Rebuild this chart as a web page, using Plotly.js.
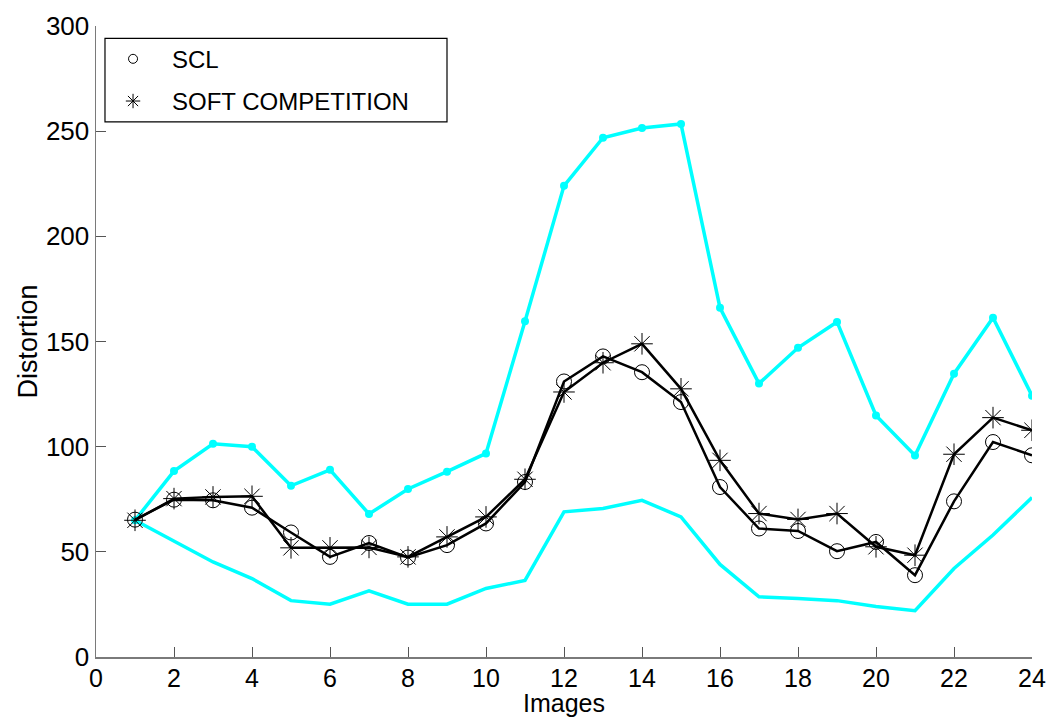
<!DOCTYPE html>
<html>
<head>
<meta charset="utf-8">
<script src="https://cdn.plot.ly/plotly-3.0.1.min.js"></script>
<style>
  html, body { margin: 0; padding: 0; background: #fff; }
  #chart { width: 1050px; height: 717px; }
</style>
</head>
<body>
<div id="chart"></div>
<script>
// Image index along the horizontal axis
const images = [1, 2, 3, 4, 5, 6, 7, 8, 9, 10, 11, 12, 13, 14, 15, 16, 17, 18, 19, 20, 21, 22, 23, 24];

// Envelope curves (cyan): upper bound with dots, lower bound plain
const upperBound = [65, 88.4, 101.4, 100, 81.4, 89, 68, 79.9, 88.1, 96.8, 159.6, 224, 246.9, 251.5, 253.4, 166, 130, 147, 159.3, 114.8, 95.8, 134.7, 161.3, 124.2];
const lowerBound = [65, 55, 45.2, 37.3, 26.8, 25.1, 31.5, 25.1, 25.1, 32.6, 36.4, 69, 70.6, 74.5, 66.6, 44, 28.6, 27.8, 26.8, 24, 22, 42.1, 58, 75.8];

// Distortion per image for the two methods
const sclDistortion = [65.3, 74.8, 74.5, 71, 59.2, 47.6, 54.2, 47.3, 53.2, 63.5, 83.2, 131, 142.9, 135.4, 121.2, 80.8, 61.1, 59.9, 50.3, 54.7, 38.9, 74, 102.2, 95.9];
const softDistortion = [65, 75.3, 76.1, 76.4, 51.9, 51.9, 52.1, 47.6, 57.1, 66.6, 84.5, 126, 139.9, 148.9, 127.5, 93.5, 68.2, 65.4, 68.2, 52.4, 48.4, 96.4, 113.8, 107.8];

const seriesNames = ['SCL', 'SOFT COMPETITION'];
const xTicks = [0, 2, 4, 6, 8, 10, 12, 14, 16, 18, 20, 22, 24];
const yTicks = [0, 50, 100, 150, 200, 250, 300];

const FONT = 'Liberation Sans, Arial, Helvetica, sans-serif';
const CYAN = '#00ffff';

const traces = [
  {
    x: images, y: upperBound, type: 'scatter', mode: 'lines+markers',
    line: { color: CYAN, width: 3.5 },
    marker: { color: CYAN, size: 8, symbol: 'circle' },
    showlegend: false, hoverinfo: 'skip'
  },
  {
    x: images, y: lowerBound, type: 'scatter', mode: 'lines',
    line: { color: CYAN, width: 3.5 },
    showlegend: false, hoverinfo: 'skip'
  },
  {
    x: images, y: sclDistortion, type: 'scatter', mode: 'lines+markers',
    line: { color: '#000', width: 2.5 },
    marker: { color: '#000', size: 15, symbol: 'circle-open', line: { width: 1 } },
    showlegend: false
  },
  {
    x: images, y: softDistortion, type: 'scatter', mode: 'lines+markers',
    line: { color: '#000', width: 2.5 },
    marker: { color: '#000', size: 18, symbol: 'asterisk-open', line: { width: 1 } },
    showlegend: false
  },
  // Legend entries: symbol only
  {
    x: [null], y: [null], type: 'scatter', mode: 'markers', name: seriesNames[0],
    legendgroup: 'a',
    marker: { color: '#000', size: 9, symbol: 'circle-open', line: { width: 1 } }
  },
  {
    x: [null], y: [null], type: 'scatter', mode: 'markers', name: seriesNames[1],
    legendgroup: 'b',
    marker: { color: '#000', size: 12, symbol: 'asterisk-open', line: { width: 1 } }
  }
];

const axisCommon = {
  showline: true, linecolor: '#7a7a7a', linewidth: 1.5,
  ticks: 'inside', ticklen: 10, tickwidth: 1, tickcolor: '#555',
  showgrid: false, zeroline: false,
  tickfont: { family: FONT, size: 26, color: '#000' },
  mirror: false, fixedrange: true
};

const layout = {
  width: 1050, height: 717,
  margin: { l: 96, r: 18, t: 26, b: 60, autoexpand: false },
  paper_bgcolor: '#fff', plot_bgcolor: '#fff',
  font: { family: FONT, color: '#000' },
  xaxis: Object.assign({}, axisCommon, {
    range: [0, 24], tickmode: 'array', tickvals: xTicks, ticktext: xTicks.map(String),
    tickfont: { family: FONT, size: 25, color: '#000' },
    ticklabelstandoff: -2,
    title: { text: 'Images', font: { family: FONT, size: 25, color: '#000' }, standoff: 2 },
    automargin: false
  }),
  yaxis: Object.assign({}, axisCommon, {
    range: [0, 300], tickmode: 'array', tickvals: yTicks, ticktext: yTicks.map(String),
    title: { text: 'Distortion', font: { family: FONT, size: 27, color: '#000' }, standoff: 0 },
    automargin: false
  }),
  // Legend frame
  shapes: [{
    type: 'rect', xref: 'paper', yref: 'paper', layer: 'below',
    x0: 0.0096, x1: 0.375, y0: 0.848, y1: 0.9805,
    line: { color: '#000', width: 1.2 }, fillcolor: '#fff'
  }],
  legend: {
    x: -0.0021, y: 0.983, xanchor: 'left', yanchor: 'top',
    bgcolor: 'rgba(0,0,0,0)', borderwidth: 0,
    font: { family: FONT, size: 24, color: '#000' },
    traceorder: 'grouped', tracegroupgap: 8,
    itemwidth: 68
  },
  showlegend: true
};

Plotly.newPlot('chart', traces, layout, { displayModeBar: false, staticPlot: true });
</script>
</body>
</html>
